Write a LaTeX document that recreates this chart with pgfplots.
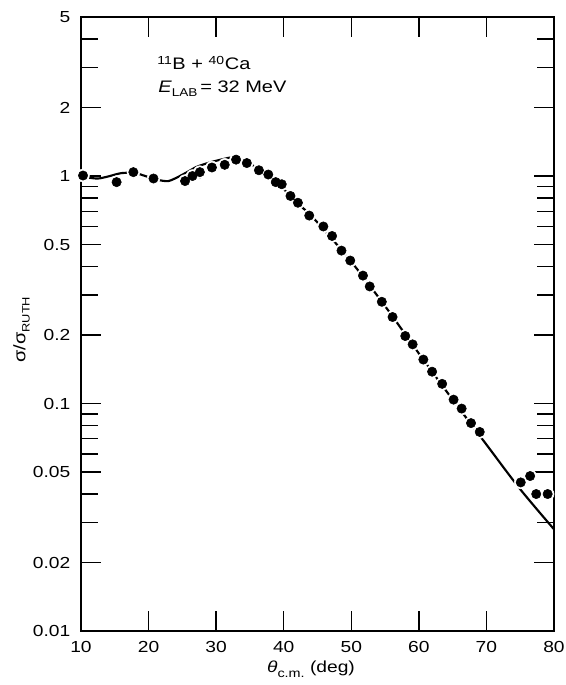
\documentclass[border=0pt]{standalone}
\usepackage{fontspec}
\setmainfont[FakeStretch=1.2]{Liberation Sans}
\usepackage{pgfplots}
\usepackage{pgfplotstable}
\pgfplotsset{compat=1.18}

% measured points: angle, ratio, error
\pgfplotstableread{
x y e
10.3 1.005 0.05
15.27 0.94 0
17.75 1.04 0.07
20.73 0.975 0.05
25.40 0.95 0.03
26.50 1.00 0.05
27.59 1.04 0.07
29.38 1.09 0.05
31.27 1.12 0.05
32.95 1.18 0.06
34.54 1.14 0
36.33 1.06 0
37.72 1.015 0
38.82 0.94 0
39.71 0.92 0
41.00 0.817 0
42.10 0.763 0
43.78 0.67 0
45.87 0.60 0
47.16 0.545 0
48.55 0.47 0
49.85 0.425 0
51.73 0.365 0
52.73 0.327 0
54.52 0.28 0
56.11 0.24 0
57.99 0.198 0
59.08 0.182 0
60.67 0.156 0
61.96 0.138 0
63.45 0.122 0
65.14 0.104 0
66.33 0.095 0
67.72 0.082 0
69.01 0.075 0
75.08 0.045 0
76.47 0.048 0
77.37 0.040 0
79.06 0.040 0
}\meas

\begin{document}
\begin{tikzpicture}
\begin{axis}[
  at={(0,0)}, anchor=south west,
  width=354.75pt, height=460.5pt, scale only axis,
  xmin=10, xmax=80, ymode=log, ymin=0.01, ymax=5,
  xtick={10,20,...,80}, xticklabels={10,20,30,40,50,60,70,80},
  ytick={0.01,0.02,0.05,0.1,0.2,0.5,1,2,5},
  yticklabels={0.01,0.02,0.05,0.1,0.2,0.5,1,2,5},
  minor ytick={0.03,0.04,0.06,0.07,0.08,0.09,0.3,0.4,0.6,0.7,0.8,0.9,3,4},
  tick align=inside, tick pos=both,
  major tick length=15pt, minor tick length=12.5pt,
  axis line style={line width=1.5pt},
  every tick/.style={black, line width=1.1pt},
  tick label style={font=\fontsize{12}{14}\selectfont},
  yticklabel style={xshift=-4.5pt},
  xticklabel style={yshift=-4pt},
]
\addplot[black, line width=1.6pt, smooth] coordinates {
  (10,1.0) (11,0.985) (12.5,0.975) (14,0.995) (16,1.03) (18,1.03) (19.5,1.0)
  (20.5,0.98) (21.5,0.96) (22.9,0.95) (24.2,0.985) (25.7,1.04) (27.2,1.10) (29.2,1.15)
  (31.2,1.19) (32.7,1.21) (34.2,1.17) (35.7,1.10) (37.2,1.03) (38.7,0.95) (40.1,0.87)
  (42.1,0.76) (45.1,0.62) (50,0.42) (55,0.268) (60,0.166) (65,0.104) (70,0.066)
  (75,0.042) (80,0.028)};
% white halo breaks the curve round each point
\addplot[only marks, mark=*, mark size=4.8pt, draw=white, fill=white,
  mark options={fill=white, draw=white}]
  table[x=x, y=y] {\meas};
\addplot[only marks, black, mark=*, mark size=3.5pt,
  mark options={fill=black, draw=black, line width=0.4pt},
  error bars/.cd, y dir=both, y explicit, error mark=none,
  error bar style={line width=1.1pt, black}]
  table[x=x, y=y, y error=e] {\meas};
\node[anchor=west, inner sep=0pt, font=\fontsize{12.5}{14}\selectfont] at (axis cs:21.25,3.14)
  {\textsuperscript{11}B + \textsuperscript{40}Ca};
\node[anchor=west, inner sep=0pt, font=\fontsize{12.5}{14}\selectfont] at (axis cs:21.4,2.41)
  {\textit{E}\raisebox{-0.45ex}{\fontsize{8.5}{10}\selectfont LAB}\,= 32 MeV};
\end{axis}
\node[rotate=90, inner sep=0pt, font=\fontsize{12.5}{14}\selectfont] at (-44.6pt,226pt)
  {σ/σ\raisebox{-0.5ex}{\fontsize{8}{10}\selectfont RUTH}};
\node[inner sep=0pt, font=\fontsize{12}{14}\selectfont] at (172.5pt,-28.5pt)
  {\textit{θ}\raisebox{-0.6ex}{\fontsize{9}{10}\selectfont c.m.}\ (deg)};
\pgfresetboundingbox
\path[use as bounding box] (-60.75pt,-40.5pt) rectangle (363.75pt,473.25pt);
\end{tikzpicture}
\end{document}
